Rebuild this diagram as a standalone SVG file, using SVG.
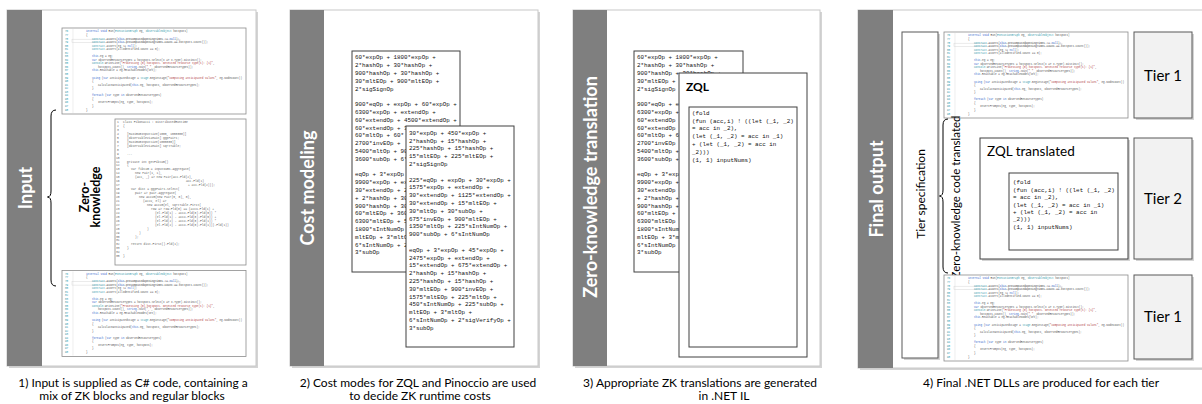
<svg xmlns="http://www.w3.org/2000/svg" xmlns:xlink="http://www.w3.org/1999/xlink" width="1202" height="404" viewBox="0 0 1202 404">
<style>
.bar{fill:#7f7f7f}
.panel{fill:#fff;stroke:#c8c8c8;stroke-width:1}
.shadow{fill:#d4d4d4}
.title{font-family:Lato,'Liberation Sans',sans-serif;font-weight:bold;fill:#fff;font-size:18px;text-anchor:middle}
.cap{font-family:Lato,'Liberation Sans',sans-serif;font-size:12px;fill:#000;text-anchor:middle}
.lbl{font-family:Lato,'Liberation Sans',sans-serif;fill:#000}
.box{fill:#fff;stroke:#404040;stroke-width:1}
.mono{font-family:'Liberation Mono',monospace;font-size:5.85px;fill:#111}
.code{fill:#fff;stroke:#8c8c8c;stroke-width:0.8}
.tiny{font-family:'Liberation Mono',monospace;font-size:2.7px;fill:#555}
.zk{font-family:'Liberation Mono',monospace;font-size:3px;fill:#666}
.kw{fill:#3366cc}
.ty{fill:#3399aa}
.st{fill:#b04040}
.ln{fill:#3399aa}
.tier{fill:#f2f2f2;stroke:#595959;stroke-width:1}
.brace{fill:none;stroke:#000;stroke-width:1}
</style>
<defs>
<g id="cs">
<rect class="code" x="0" y="0" width="184" height="86"/>
<line x1="11" y1="1" x2="11" y2="85" stroke="#e2e2e2" stroke-width="0.6"/>
<rect x="10" y="11.2" width="108" height="3.4" fill="none" stroke="#d8d8d8" stroke-width="0.5"/>
<text class="tiny ln" x="3"><tspan x="3" y="4.4">76</tspan><tspan x="3" dy="3.55">77</tspan><tspan x="3" dy="3.55">78</tspan><tspan x="3" dy="3.55">79</tspan><tspan x="3" dy="3.55">80</tspan><tspan x="3" dy="3.55">81</tspan><tspan x="3" dy="3.55">82</tspan><tspan x="3" dy="3.55">83</tspan><tspan x="3" dy="3.55">84</tspan><tspan x="3" dy="3.55">85</tspan><tspan x="3" dy="3.55">86</tspan><tspan x="3" dy="3.55">87</tspan><tspan x="3" dy="3.55">88</tspan><tspan x="3" dy="3.55">89</tspan><tspan x="3" dy="3.55">90</tspan><tspan x="3" dy="3.55">91</tspan><tspan x="3" dy="3.55">92</tspan><tspan x="3" dy="3.55">93</tspan><tspan x="3" dy="3.55">94</tspan><tspan x="3" dy="3.55">95</tspan><tspan x="3" dy="3.55">96</tspan><tspan x="3" dy="3.55">97</tspan><tspan x="3" dy="3.55">98</tspan></text>
<text class="tiny" y="4.4"><tspan x="24" y="4.4"><tspan class="kw">internal void</tspan> Run(<tspan class="ty">ExecutionGraph</tspan> eg, <tspan class="ty">ObservableObject</tspan> hotspots)</tspan><tspan x="24" y="7.95">{</tspan><tspan x="30" y="11.5"><tspan class="ty">Contract</tspan>.Assert(<tspan class="kw">this</tspan>.precomputedOpeningTimes != <tspan class="kw">null</tspan>);</tspan><tspan x="30" y="15.05"><tspan class="ty">Contract</tspan>.Assert(<tspan class="kw">this</tspan>.precomputedOpeningTimes.Count == hotspots.Count());</tspan><tspan x="30" y="18.6"><tspan class="ty">Contract</tspan>.Assert(eg != <tspan class="kw">null</tspan>);</tspan><tspan x="30" y="22.15"><tspan class="ty">Contract</tspan>.Assert(allIdentified.Count == 0);</tspan><tspan x="30" y="29.25"><tspan class="kw">this</tspan>.eg = eg;</tspan><tspan x="30" y="32.8"><tspan class="kw">var</tspan> observedResourceTypes = hotspots.Select(x =&gt; x.Type).Distinct();</tspan><tspan x="30" y="36.35"><tspan class="ty">Console</tspan>.WriteLine(<tspan class="st">"Processing {0} hotspots. Detected resource type(s): {1}"</tspan>,</tspan><tspan x="36" y="39.9">hotspots.Count(), <tspan class="kw">string</tspan>.Join(<tspan class="st">","</tspan>, observedResourceTypes));</tspan><tspan x="30" y="43.45"><tspan class="kw">this</tspan>.Reachable = eg.ReachableNodes(set);</tspan><tspan x="30" y="50.55"><tspan class="kw">using</tspan> (<tspan class="kw">var</tspan> anticipatedStage = <tspan class="ty">Stage</tspan>.BeginStage(<tspan class="st">"Computing anticipated values"</tspan>, eg.NodeCount))</tspan><tspan x="30" y="54.1">{</tspan><tspan x="36" y="57.65">CalculateAnticipated(<tspan class="kw">this</tspan>.eg, hotspots, observedResourceTypes);</tspan><tspan x="30" y="61.2">}</tspan><tspan x="30" y="68.3"><tspan class="kw">foreach</tspan> (<tspan class="kw">var</tspan> type <tspan class="kw">in</tspan> observedResourceTypes)</tspan><tspan x="30" y="71.85">{</tspan><tspan x="36" y="75.4">InsertPrompts(eg, type, hotspots);</tspan><tspan x="30" y="78.95">}</tspan><tspan x="24" y="82.5">}</tspan></text>
</g>
</defs>

<!-- Panel 1: Input -->
<g id="panel-input">
<rect class="shadow" x="9" y="12" width="249" height="356"/>
<rect class="panel" x="7" y="10" width="249" height="356"/>
<rect class="bar" x="7" y="10" width="35" height="356"/>
<text class="title" transform="translate(31.5,188) rotate(-90)">Input</text>
</g>
<g id="code-regular-top"><use href="#cs" xlink:href="#cs" transform="translate(62,28)"/></g>
<g id="code-zk">
<rect class="code" x="115" y="119" width="131" height="146"/>
<text class="zk"><tspan x="117" y="123">1</tspan><tspan x="117" dy="3.95">2</tspan><tspan x="117" dy="3.95">3</tspan><tspan x="117" dy="3.95">4</tspan><tspan x="117" dy="3.95">5</tspan><tspan x="117" dy="3.95">6</tspan><tspan x="117" dy="3.95">7</tspan><tspan x="117" dy="3.95">8</tspan><tspan x="117" dy="3.95">9</tspan><tspan x="116" dy="3.95">10</tspan><tspan x="116" dy="3.95">11</tspan><tspan x="116" dy="3.95">12</tspan><tspan x="116" dy="3.95">13</tspan><tspan x="116" dy="3.95">14</tspan><tspan x="116" dy="3.95">15</tspan><tspan x="116" dy="3.95">16</tspan><tspan x="116" dy="3.95">17</tspan><tspan x="116" dy="3.95">18</tspan><tspan x="116" dy="3.95">19</tspan><tspan x="116" dy="3.95">20</tspan><tspan x="116" dy="3.95">21</tspan><tspan x="116" dy="3.95">22</tspan><tspan x="116" dy="3.95">23</tspan><tspan x="116" dy="3.95">24</tspan><tspan x="116" dy="3.95">25</tspan><tspan x="116" dy="3.95">26</tspan><tspan x="116" dy="3.95">27</tspan><tspan x="116" dy="3.95">28</tspan><tspan x="116" dy="3.95">29</tspan><tspan x="116" dy="3.95">30</tspan><tspan x="116" dy="3.95">31</tspan><tspan x="116" dy="3.95">32</tspan><tspan x="116" dy="3.95">33</tspan><tspan x="116" dy="3.95">34</tspan><tspan x="116" dy="3.95">35</tspan></text>
<text class="zk"><tspan x="123" y="123">class Fibonacci : DistributedRuntime</tspan><tspan x="123" y="126.95">{</tspan><tspan x="127" y="134.85">[MaximumInputSize(1000, 1000000)]</tspan><tspan x="127" y="138.8">[ObservableViaMain] ggpPairs;</tspan><tspan x="127" y="142.75">[MaximumInputSize(1000000)]</tspan><tspan x="127" y="146.7">[ObservableViaMain] sqrtTable;</tspan><tspan x="127" y="154.6">...</tspan><tspan x="127" y="162.5">private int getFibSum()</tspan><tspan x="127" y="166.45">{</tspan><tspan x="131" y="170.4">var fibSum = inputNums.Aggregate(</tspan><tspan x="135" y="174.35">new Pair(1, 1),</tspan><tspan x="135" y="178.3">(acc, _) =&gt; new Pair(acc.Fld(2),</tspan><tspan x="186" y="182.25">acc.Fld(1)</tspan><tspan x="188" y="186.2">+ acc.Fld(2)));</tspan><tspan x="131" y="190.15">var dist = ggpPairs.Select(</tspan><tspan x="135" y="194.1">pair =&gt; pair.Aggregate(</tspan><tspan x="139" y="198.05">new Accum(new Pair(0, 0), 0),</tspan><tspan x="143" y="202">(accu, el) =&gt;</tspan><tspan x="147" y="205.95">new Accum(el, sqrtTable.First(</tspan><tspan x="151" y="209.9">row =&gt; row.Fld(0) == (accu.Fld(1) +</tspan><tspan x="155" y="213.85">(el.Fld(1) - accu.Fld(0).Fld(0)) *</tspan><tspan x="155" y="217.8">(el.Fld(1) - accu.Fld(0).Fld(0)) +</tspan><tspan x="155" y="221.75">(el.Fld(2) - accu.Fld(0).Fld(1)) *</tspan><tspan x="155" y="225.7">(el.Fld(2) - accu.Fld(0).Fld(1))).Fld(1))</tspan><tspan x="147" y="229.65">)</tspan><tspan x="139" y="233.6">)</tspan><tspan x="135" y="237.55">);</tspan><tspan x="131" y="245.45">return dist.First().Fld(1);</tspan><tspan x="127" y="249.4">}</tspan><tspan x="123" y="257.3">}</tspan></text>
</g>
<g id="code-regular-bottom"><use href="#cs" xlink:href="#cs" transform="translate(62,270.5)"/></g>
<g id="label-zk">
<text class="lbl" font-weight="bold" font-size="12.5" text-anchor="middle" transform="translate(88.5,197) rotate(-90)">Zero-</text>
<text class="lbl" font-weight="bold" font-size="12.5" text-anchor="middle" transform="translate(100,197) rotate(-90)">knowledge</text>
</g>

<!-- Panel 2: Cost modeling -->
<g id="panel-cost">
<rect class="shadow" x="292" y="12" width="248" height="356"/>
<rect class="panel" x="290" y="10" width="248" height="356"/>
<rect class="bar" x="290" y="10" width="34" height="356"/>
<text class="title" transform="translate(313.5,188) rotate(-90)">Cost modeling</text>
</g>
<g id="cost-pinocchio">
<rect class="box" x="352" y="51" width="108" height="221"/>
<text class="mono"><tspan x="355" y="59.3">60*expOp + 1800*expOp +</tspan><tspan x="355" dy="7.8">2*hashOp + 30*hashOp +</tspan><tspan x="355" dy="7.8">900*hashOp + 30*hashOp +</tspan><tspan x="355" dy="7.8">30*mltEOp + 900*mltEOp +</tspan><tspan x="355" dy="7.8">2*sigSignOp</tspan><tspan x="355" dy="15.6">900*eqOp + expOp + 60*expOp +</tspan><tspan x="355" dy="7.8">6300*expOp + extendOp +</tspan><tspan x="355" dy="7.8">60*extendOp + 4500*extendOp +</tspan><tspan x="355" dy="7.8">60*extendOp + 3</tspan><tspan x="355" dy="7.8">60*mltOp + 60*</tspan><tspan x="355" dy="7.8">2700*invEOp + </tspan><tspan x="355" dy="7.8">5400*mltOp + 90</tspan><tspan x="355" dy="7.8">3600*subOp + 6*</tspan><tspan x="355" dy="15.6">eqOp + 3*expOp </tspan><tspan x="355" dy="7.8">9900*expOp + ex</tspan><tspan x="355" dy="7.8">30*extendOp + 2</tspan><tspan x="355" dy="7.8">+ 2*hashOp + 30</tspan><tspan x="355" dy="7.8">900*hashOp + 30</tspan><tspan x="355" dy="7.8">60*mltEOp + 360</tspan><tspan x="355" dy="7.8">6300*mltEOp + 5</tspan><tspan x="355" dy="7.8">1800*sIntNumOp </tspan><tspan x="355" dy="7.8">mltEOp + 3*mltO</tspan><tspan x="355" dy="7.8">6*sIntNumOp + 2</tspan><tspan x="355" dy="7.8">3*subOp</tspan></text>
</g>
<g id="cost-zql">
<rect class="box" x="406" y="126" width="108" height="221"/>
<text class="mono"><tspan x="409" y="134.7">30*expOp + 450*expOp +</tspan><tspan x="409" dy="7.8">2*hashOp + 15*hashOp +</tspan><tspan x="409" dy="7.8">225*hashOp + 15*hashOp +</tspan><tspan x="409" dy="7.8">15*mltEOp + 225*mltEOp +</tspan><tspan x="409" dy="7.8">2*sigSignOp</tspan><tspan x="409" dy="15.6">225*eqOp + expOp + 30*expOp +</tspan><tspan x="409" dy="7.8">1575*expOp + extendOp +</tspan><tspan x="409" dy="7.8">30*extendOp + 1125*extendOp +</tspan><tspan x="409" dy="7.8">30*extendOp + 15*mltEOp +</tspan><tspan x="409" dy="7.8">30*mltOp + 30*subOp +</tspan><tspan x="409" dy="7.8">675*invEOp + 900*mltEOp +</tspan><tspan x="409" dy="7.8">1350*mltOp + 225*sIntNumOp +</tspan><tspan x="409" dy="7.8">900*subOp + 6*sIntNumOp</tspan><tspan x="409" dy="15.6">eqOp + 3*expOp + 45*expOp +</tspan><tspan x="409" dy="7.8">2475*expOp + extendOp +</tspan><tspan x="409" dy="7.8">15*extendOp + 675*extendOp +</tspan><tspan x="409" dy="7.8">2*hashOp + 15*hashOp +</tspan><tspan x="409" dy="7.8">225*hashOp + 15*hashOp +</tspan><tspan x="409" dy="7.8">30*mltEOp + 900*invEOp +</tspan><tspan x="409" dy="7.8">1575*mltEOp + 225*mltOp +</tspan><tspan x="409" dy="7.8">450*sIntNumOp + 225*subOp +</tspan><tspan x="409" dy="7.8">mltEOp + 3*mltOp +</tspan><tspan x="409" dy="7.8">6*sIntNumOp + 2*sigVerifyOp +</tspan><tspan x="409" dy="7.8">3*subOp</tspan></text>
</g>

<!-- Panel 3: Zero-knowledge translation -->
<g id="panel-translation">
<rect class="shadow" x="575" y="12" width="247" height="356"/>
<rect class="panel" x="573" y="10" width="247" height="356"/>
<rect class="bar" x="573" y="10" width="34" height="356"/>
<text class="title" transform="translate(597,187) rotate(-90)">Zero-knowledge translation</text>
</g>
<g id="cost-copy">
<rect class="box" x="634" y="51" width="109" height="221"/>
<text class="mono"><tspan x="637" y="59.3">60*expOp + 1800*expOp +</tspan><tspan x="637" dy="7.8">2*hashOp + 30*hashOp +</tspan><tspan x="637" dy="7.8">900*hashOp + 30*hashOp +</tspan><tspan x="637" dy="7.8">30*mltEOp +</tspan><tspan x="637" dy="7.8">2*sigSignOp</tspan><tspan x="637" dy="15.6">900*eqOp + e</tspan><tspan x="637" dy="7.8">6300*expOp +</tspan><tspan x="637" dy="7.8">60*extendOp</tspan><tspan x="637" dy="7.8">60*extendOp</tspan><tspan x="637" dy="7.8">60*mltOp + 6</tspan><tspan x="637" dy="7.8">2700*invEOp</tspan><tspan x="637" dy="7.8">5400*mltOp +</tspan><tspan x="637" dy="7.8">3600*subOp +</tspan><tspan x="637" dy="15.6">eqOp + 3*exp</tspan><tspan x="637" dy="7.8">9900*expOp +</tspan><tspan x="637" dy="7.8">30*extendOp</tspan><tspan x="637" dy="7.8">+ 2*hashOp +</tspan><tspan x="637" dy="7.8">900*hashOp +</tspan><tspan x="637" dy="7.8">60*mltEOp +</tspan><tspan x="637" dy="7.8">6300*mltEOp</tspan><tspan x="637" dy="7.8">1800*sIntNum</tspan><tspan x="637" dy="7.8">mltEOp + 3*m</tspan><tspan x="637" dy="7.8">6*sIntNumOp</tspan><tspan x="637" dy="7.8">3*subOp</tspan></text>
</g>
<g id="zql-box">
<rect class="box" x="679" y="73" width="128" height="284"/>
<text class="lbl" x="686" y="90.5" font-weight="bold" font-size="12">ZQL</text>
<rect class="box" x="689" y="107" width="108" height="240"/>
<text class="mono"><tspan x="692" y="114.7">(fold</tspan><tspan x="692" dy="7.8">(fun (acc,i) ! ((let (_1, _2)</tspan><tspan x="692" dy="7.8">= acc in _2),</tspan><tspan x="692" dy="7.8">(let (_1, _2) = acc in _1)</tspan><tspan x="692" dy="7.8">+ (let (_1, _2) = acc in</tspan><tspan x="692" dy="7.8">_2)))</tspan><tspan x="692" dy="7.8">(1, 1) inputNums)</tspan></text>
</g>

<!-- Panel 4: Final output -->
<g id="panel-output">
<rect class="shadow" x="860" y="12" width="346" height="358"/>
<rect class="panel" x="858" y="10" width="346" height="358"/>
<rect class="bar" x="858" y="10" width="35" height="358"/>
<text class="title" transform="translate(882.5,189) rotate(-90)">Final output</text>
</g>
<g id="tier-spec">
<rect x="904" y="34" width="36" height="326" fill="#d4d4d4"/>
<rect x="902" y="32" width="36" height="326" fill="#fff" stroke="#595959" stroke-width="1"/>
<text class="lbl" font-size="12" text-anchor="middle" transform="translate(925,194) rotate(-90)">Tier specification</text>
</g>
<g id="out-code-top"><use href="#cs" xlink:href="#cs" transform="translate(944,32)"/></g>
<g id="zk-label-out">
<text class="lbl" font-size="11.5" text-anchor="middle" transform="translate(960,197) rotate(-90)">Zero-knowledge code translated</text>
</g>
<g id="zql-translated">
<rect x="982" y="140" width="148" height="121" fill="#d4d4d4"/>
<rect class="box" x="980" y="138" width="148" height="121"/>
<text class="lbl" x="987" y="156" font-size="13.5">ZQL translated</text>
<rect class="box" x="1009" y="173" width="109" height="77"/>
<text class="mono"><tspan x="1013" y="184.3">(fold</tspan><tspan x="1013" dy="7.4">(fun (acc,i) ! ((let (_1, _2)</tspan><tspan x="1013" dy="7.4">= acc in _2),</tspan><tspan x="1013" dy="7.4">(let (_1, _2) = acc in _1)</tspan><tspan x="1013" dy="7.4">+ (let (_1, _2) = acc in</tspan><tspan x="1013" dy="7.4">_2)))</tspan><tspan x="1013" dy="7.4">(1, 1) inputNums)</tspan></text>
</g>
<g id="out-code-bottom"><use href="#cs" xlink:href="#cs" transform="translate(944,275)"/></g>
<g id="tier1-top">
<rect x="1136" y="34" width="58" height="86" fill="#d4d4d4"/>
<rect class="tier" x="1134" y="32" width="58" height="86"/>
<text class="lbl" x="1163" y="81" font-size="15" text-anchor="middle">Tier 1</text>
</g>
<g id="tier2">
<rect x="1136" y="140" width="58" height="121" fill="#d4d4d4"/>
<rect class="tier" x="1134" y="138" width="58" height="121"/>
<text class="lbl" x="1163" y="203.5" font-size="15" text-anchor="middle">Tier 2</text>
</g>
<g id="tier1-bottom">
<rect x="1136" y="277" width="58" height="84" fill="#d4d4d4"/>
<rect class="tier" x="1134" y="275" width="58" height="84"/>
<text class="lbl" x="1163" y="322" font-size="15" text-anchor="middle">Tier 1</text>
</g>

<g id="connectors">
<path class="brace" d="M56,110 Q51,110 51,116 L51,191 Q51,197 47.5,197 Q51,197 51,203 L51,280 Q51,286 56,286"/>
<path class="brace" d="M948,119 Q943,119 943,125 L943,190 Q943,196 939.5,196 Q943,196 943,202 L943,267 Q943,273 948,273"/>
</g>

<g id="captions">
<text class="cap" x="133" y="386.5">1) Input is supplied as C# code, containing a</text>
<text class="cap" x="132" y="399.5">mix of ZK blocks and regular blocks</text>
<text class="cap" x="418" y="386.5">2) Cost modes for ZQL and Pinoccio are used</text>
<text class="cap" x="420" y="399.5">to decide ZK runtime costs</text>
<text class="cap" x="700" y="386.5">3) Appropriate ZK translations are generated</text>
<text class="cap" x="724" y="399.5">in .NET IL</text>
<text class="cap" x="1041" y="387">4) Final .NET DLLs are produced for each tier</text>
</g>
</svg>
